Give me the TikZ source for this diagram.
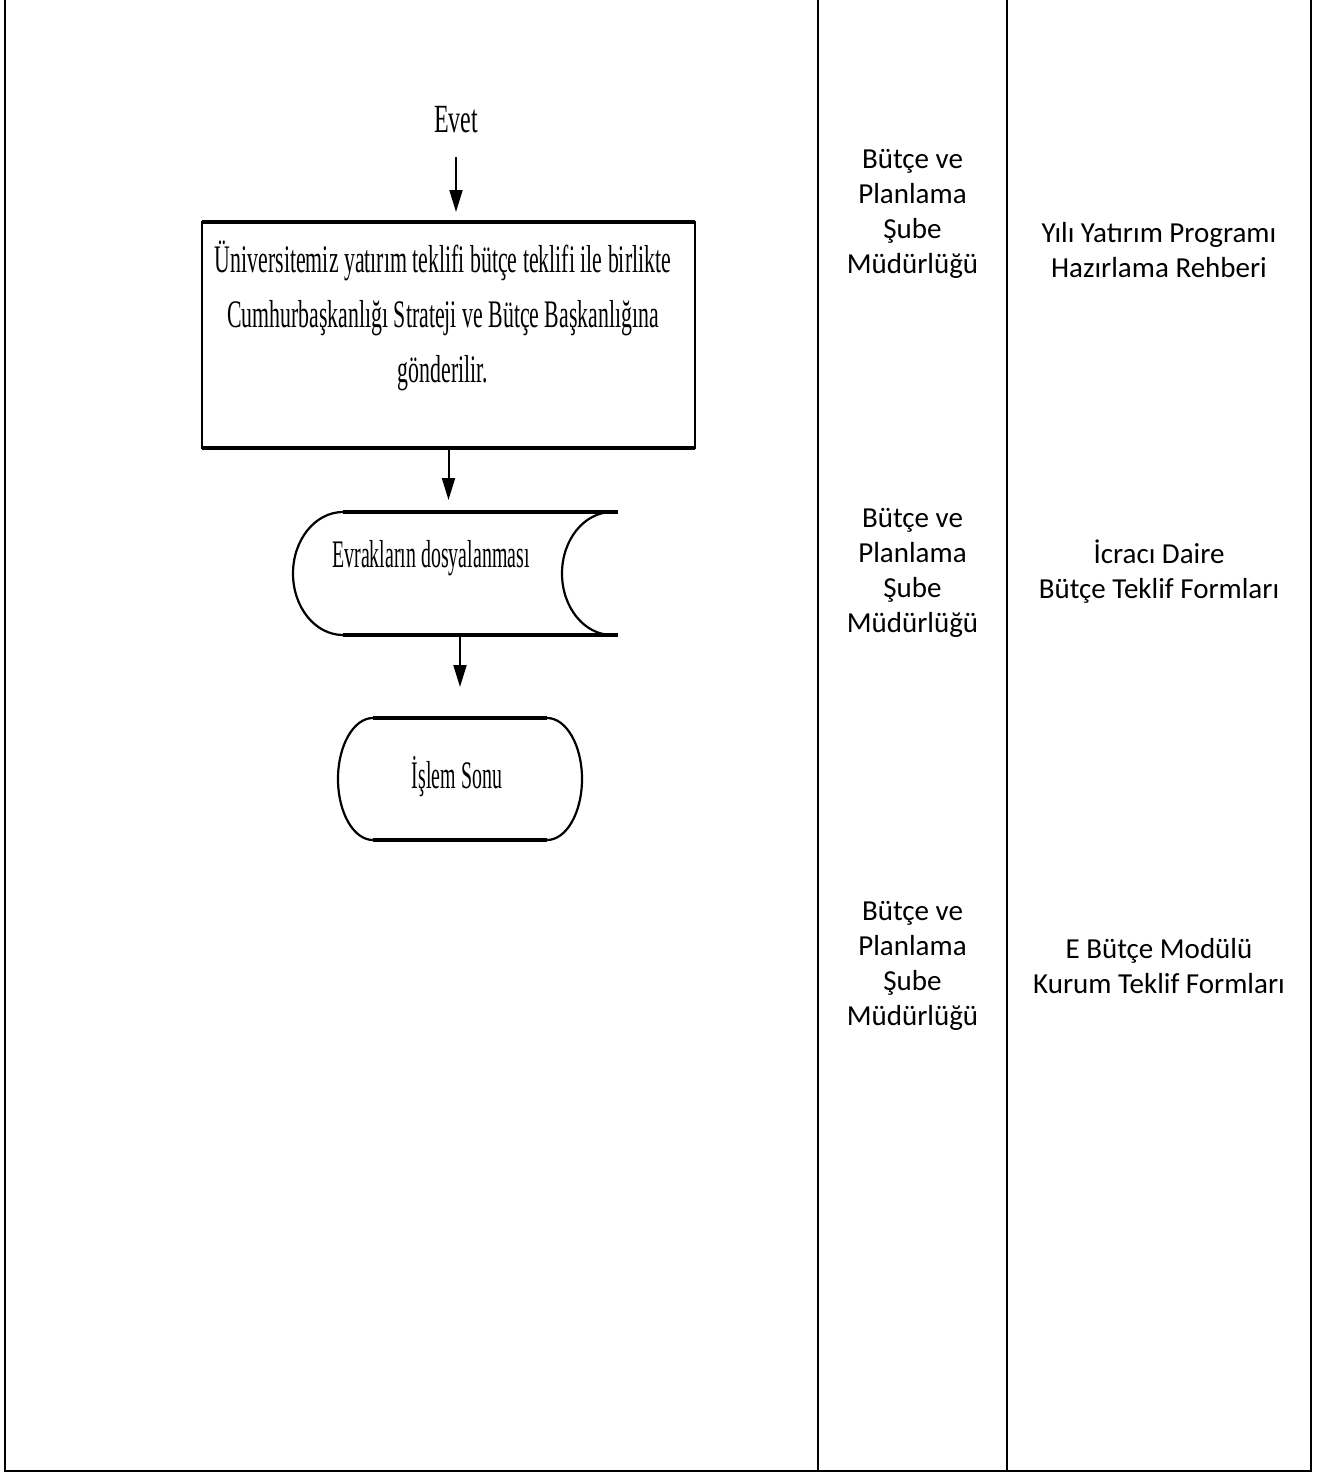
\documentclass[tikz,border=0pt]{standalone}
\usepackage{fontspec}
\setmainfont{Carlito}
\newfontfamily\evetfont[FakeStretch=0.6]{Liberation Serif}
\newfontfamily\boxfont[FakeStretch=0.56]{Liberation Serif}
\newfontfamily\docfont[FakeStretch=0.51]{Liberation Serif}
\usetikzlibrary{arrows.meta}
\begin{document}
\begin{tikzpicture}[x=1pt,y=1pt,
  tbl/.style={line width=2.2pt},
  coltext/.style={align=center, font=\fontsize{29}{35}\selectfont, inner sep=0pt},
  fcarrow/.style={line width=2pt, -{Triangle[width=13pt,length=22pt]}},
  fcline/.style={line width=2.2pt},
  fcbold/.style={line width=4pt},
  shapebox/.style={inner sep=0pt, outer sep=0pt},
  fctext/.style={inner sep=0pt, align=center},
]
\useasboundingbox (0,0) rectangle (1326,-1472);
% table lines
\draw[tbl] (5,0) -- (5,-1471) -- (1311,-1471) -- (1311,0);
\draw[tbl] (818,0) -- (818,-1471);
\draw[tbl] (1007,0) -- (1007,-1471);

% column texts
\node[coltext] (u1) at (912.5,-214) {Bütçe ve\\Planlama\\Şube\\Müdürlüğü};
\node[coltext] (u2) at (912.5,-573) {Bütçe ve\\Planlama\\Şube\\Müdürlüğü};
\node[coltext] (u3) at (912.5,-966) {Bütçe ve\\Planlama\\Şube\\Müdürlüğü};
\node[coltext] (d1) at (1159,-250) {Yılı Yatırım Programı\\Hazırlama Rehberi};
\node[coltext] (d2) at (1159,-572) {İcracı Daire\\Bütçe Teklif Formları};
\node[coltext] (d3) at (1159,-966) {E Bütçe Modülü\\Kurum Teklif Formları};

% Evet
\node[fctext, font=\evetfont\fontsize{40}{45}\selectfont] (evet) at (456,-120) {Evet};

% process box
\node[shapebox, minimum width=493pt, minimum height=226pt] (box) at (448.5,-335) {};
\draw[fcline] (box.north west) rectangle (box.south east);
\draw[fcbold] (box.north west) -- (box.north east);
\draw[fcbold] (box.south west) -- (box.south east);
\node[fctext, font=\boxfont\fontsize{39}{55}\selectfont] (boxtxt) at (443,-316)
  {Üniversitemiz yatırım teklifi bütçe teklifi ile birlikte\\Cumhurbaşkanlığı Strateji ve Bütçe Başkanlığına\\gönderilir.};

% stored data shape
\node[shapebox, minimum width=325pt, minimum height=123pt] (doc) at (455.5,-573.5) {};
\draw[fcbold] (343,-512) -- (doc.north east);
\draw[fcbold] (343,-635) -- (doc.south east);
\draw[fcline] (343,-512) arc[start angle=90, end angle=270, x radius=50, y radius=61.5];
\draw[fcline] (612,-512) arc[start angle=90, end angle=270, x radius=50, y radius=61.5];
\node[fctext, font=\docfont\fontsize{39}{45}\selectfont] (doctxt) at (431,-558) {Evrakların dosyalanması};

% terminator
\node[shapebox, minimum width=244pt, minimum height=122pt] (term) at (460,-779) {};
\draw[fcline] (373,-718) -- (547,-718) arc[start angle=90, end angle=-90, x radius=35, y radius=61]
  -- (373,-840) arc[start angle=270, end angle=90, x radius=35, y radius=61] -- cycle;
\draw[fcbold] (373,-718) -- (547,-718);
\draw[fcbold] (373,-840) -- (547,-840);
\node[fctext, font=\docfont\fontsize{39}{45}\selectfont] (termtxt) at (457,-777) {İşlem Sonu};

% connectors
\draw[fcarrow, shorten <=24pt, shorten >=10pt] (evet.south) -- (evet.south |- box.north);
\draw[fcarrow, shorten >=12pt] (box.south) -- (box.south |- doc.north);
\draw[fcarrow, shorten >=31pt] (term.north |- doc.south) -- (term.north);
\end{tikzpicture}
\end{document}
